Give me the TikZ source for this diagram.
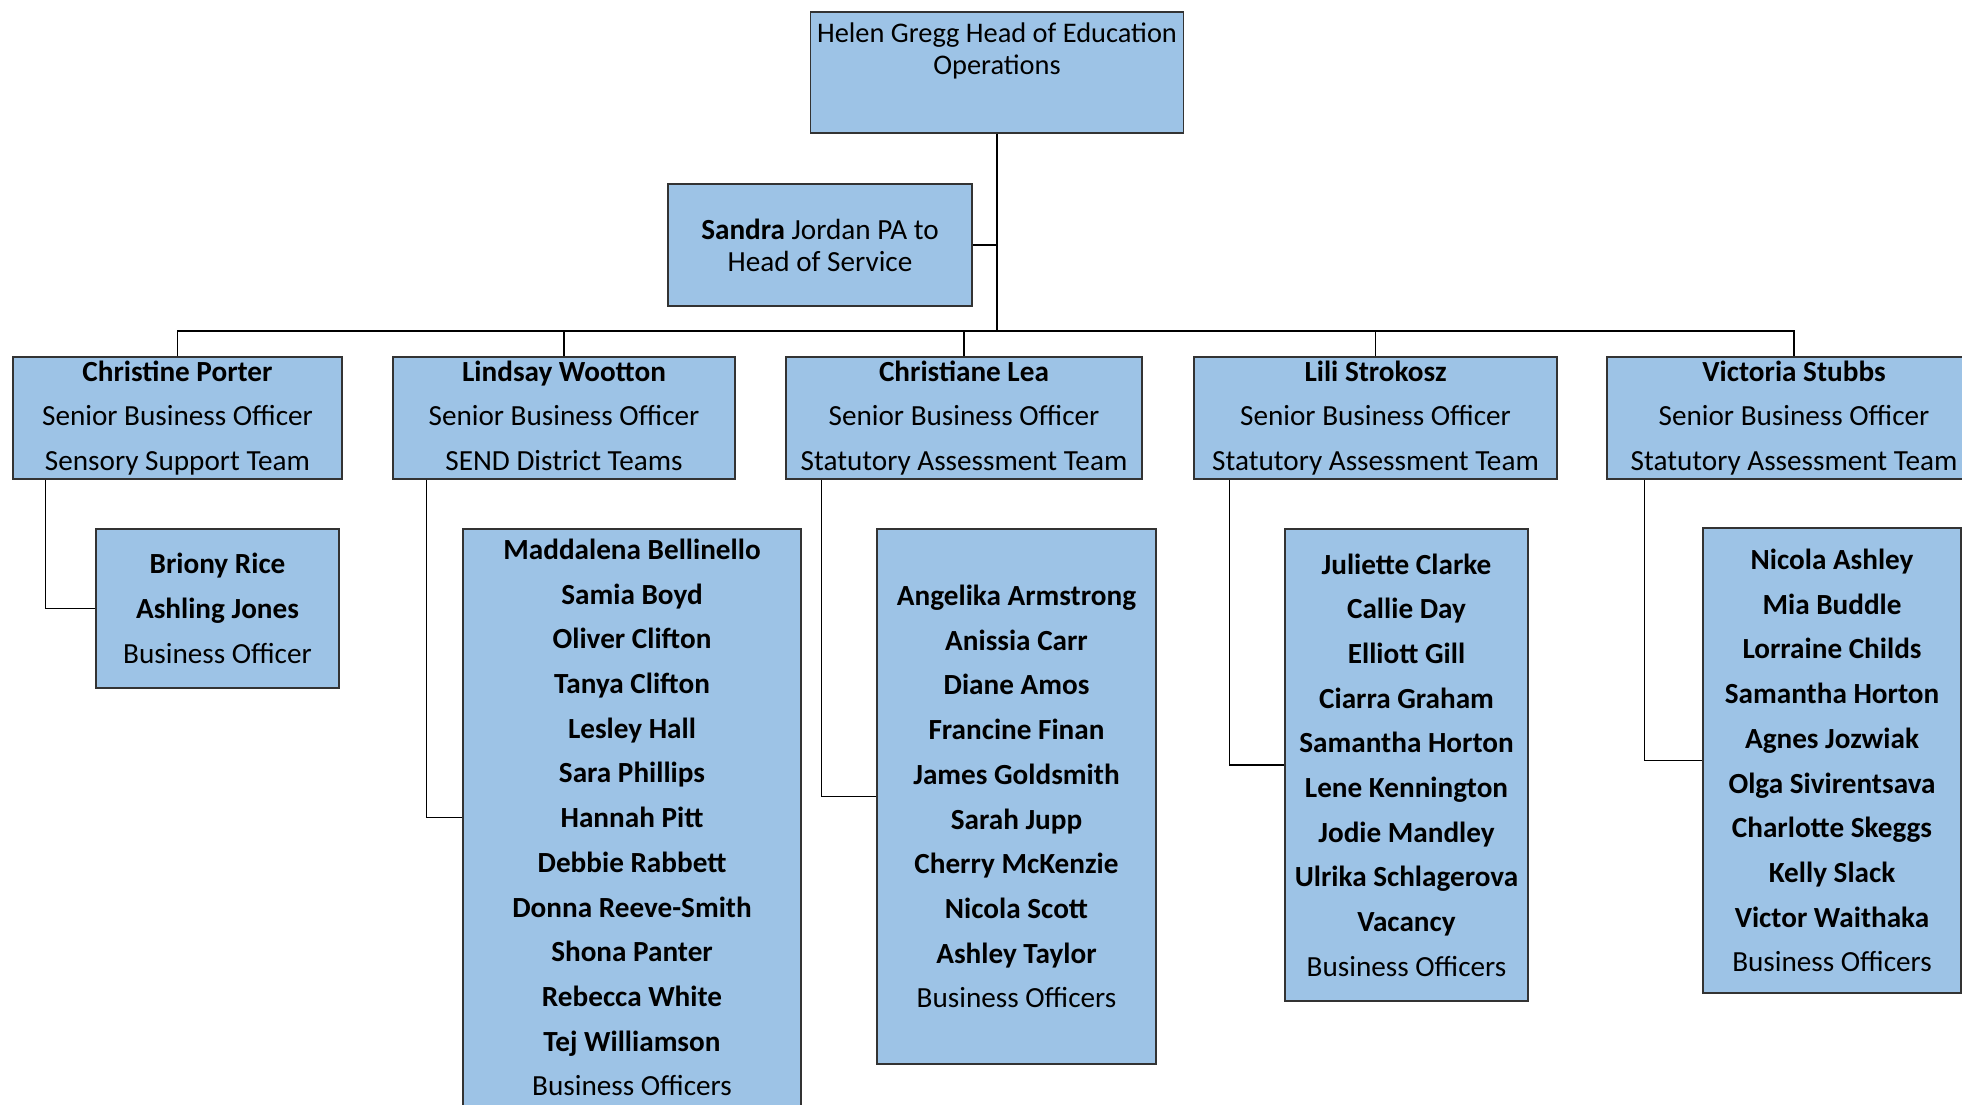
\documentclass[tikz,border=0pt]{standalone}
\usepackage{fontspec}
\setmainfont{Carlito}
\usepackage{xcolor}
\usepackage{tikz}

\definecolor{boxblue}{HTML}{9DC3E6}

\begin{document}
\begin{tikzpicture}[x=0.5pt, y=-0.5pt, align=center, line width=0.8pt,
        every node/.style={draw=black!80, line width=0.7pt, fill=boxblue, inner sep=0pt},
        head/.style={font=\fontsize{14.2}{16}\selectfont},
        unit/.style={font=\fontsize{14.6}{22.35}\selectfont}]
        \useasboundingbox (0,0) rectangle (1962,1104);
        \clip (0,0) rectangle (1962,1104);

        \node [head, minimum width=186.5pt, minimum height=60.5pt] (helen) at (997,72.5) {\parbox[c][60.5pt][t]{186.5pt}{\centering\rule{0pt}{15.25pt}Helen Gregg Head of Education\\Operations}};
        \node [head, font=\fontsize{14.6}{16}\selectfont, minimum width=152pt, minimum height=61pt] (sandra) at (820,245) {\textbf{Sandra} Jordan PA to\\Head of Service};

        % Senior business officers
        \node [unit, minimum width=164.5pt, minimum height=61pt] (porter) at (177.5,418) {\textbf{Christine Porter}\\Senior Business Officer\\Sensory Support Team};
        \node [unit, minimum width=171pt, minimum height=61pt] (wootton) at (564,418) {\textbf{Lindsay Wootton}\\Senior Business Officer\\SEND District Teams\vphantom{y}};
        \node [unit, minimum width=178pt, minimum height=61pt] (lea) at (964,418) {\textbf{Christiane Lea}\\Senior Business Officer\\Statutory Assessment Team};
        \node [unit, minimum width=181.5pt, minimum height=61pt] (strokosz) at (1375.5,418) {\textbf{Lili Strokosz}\\Senior Business Officer\\Statutory Assessment Team};
        \node [unit, minimum width=187pt, minimum height=61pt] (stubbs) at (1794,418) {\textbf{Victoria Stubbs}\\Senior Business Officer\\Statutory Assessment Team};

        % Business officers
        \node [unit, minimum width=121.5pt, minimum height=79.5pt] (porterteam) at (217.5,608.5) {\textbf{Briony Rice}\\\textbf{Ashling Jones}\\Business Officer};
        \node [unit, minimum width=169pt, minimum height=288.5pt] (woottonteam) at (632,817.5) {\textbf{Maddalena Bellinello}\\\textbf{Samia Boyd}\\\textbf{Oliver Clifton}\\\textbf{Tanya Clifton}\\\textbf{Lesley Hall}\\\textbf{Sara Phillips}\\\textbf{Hannah Pitt}\\\textbf{Debbie Rabbett}\\\textbf{Donna Reeve-Smith}\\\textbf{Shona Panter}\\\textbf{Rebecca White}\\\textbf{Tej Williamson}\\Business Officers};
        \node [unit, minimum width=139.5pt, minimum height=267.5pt] (leateam) at (1016.5,796.5) {\textbf{Angelika Armstrong}\\\textbf{Anissia Carr}\\\textbf{Diane Amos}\\\textbf{Francine Finan}\\\textbf{James Goldsmith}\\\textbf{Sarah Jupp}\\\textbf{Cherry McKenzie}\\\textbf{Nicola Scott}\\\textbf{Ashley Taylor}\\Business Officers};
        \node [unit, minimum width=121.5pt, minimum height=236pt] (strokoszteam) at (1406.5,765) {\textbf{Juliette Clarke}\\\textbf{Callie Day}\\\textbf{Elliott Gill}\\\textbf{Ciarra Graham}\\\textbf{Samantha Horton}\\\textbf{Lene Kennington}\\\textbf{Jodie Mandley}\\\textbf{Ulrika Schlagerova}\\\textbf{Vacancy}\\Business Officers};
        \node [unit, minimum width=129pt, minimum height=232.5pt] (stubbsteam) at (1832,760.5) {\textbf{Nicola Ashley}\\\textbf{Mia Buddle}\\\textbf{Lorraine Childs}\\\textbf{Samantha Horton}\\\textbf{Agnes Jozwiak}\\\textbf{Olga Sivirentsava}\\\textbf{Charlotte Skeggs}\\\textbf{Kelly Slack}\\\textbf{Victor Waithaka}\\Business Officers};

        \coordinate (hub) at (997,331);
        \draw (helen.south) -- (hub);
        \draw (sandra.east) -- (sandra.east -| hub);
        \draw (porter.north) |- (hub) -| (stubbs.north);
        \foreach \lead in {wootton, lea, strokosz}
            \draw (\lead.north) -- (\lead.north |- hub);

        \draw (porter.south west) ++(33,0) |- (porterteam.west);
        \draw (wootton.south west) ++(34,0) |- (woottonteam.west);
        \draw (lea.south west) ++(36,0) |- (leateam.west);
        \draw (strokosz.south west) ++(36,0) |- (strokoszteam.west);
        \draw (stubbs.south west) ++(38,0) |- (stubbsteam.west);

    \end{tikzpicture}
\end{document}
